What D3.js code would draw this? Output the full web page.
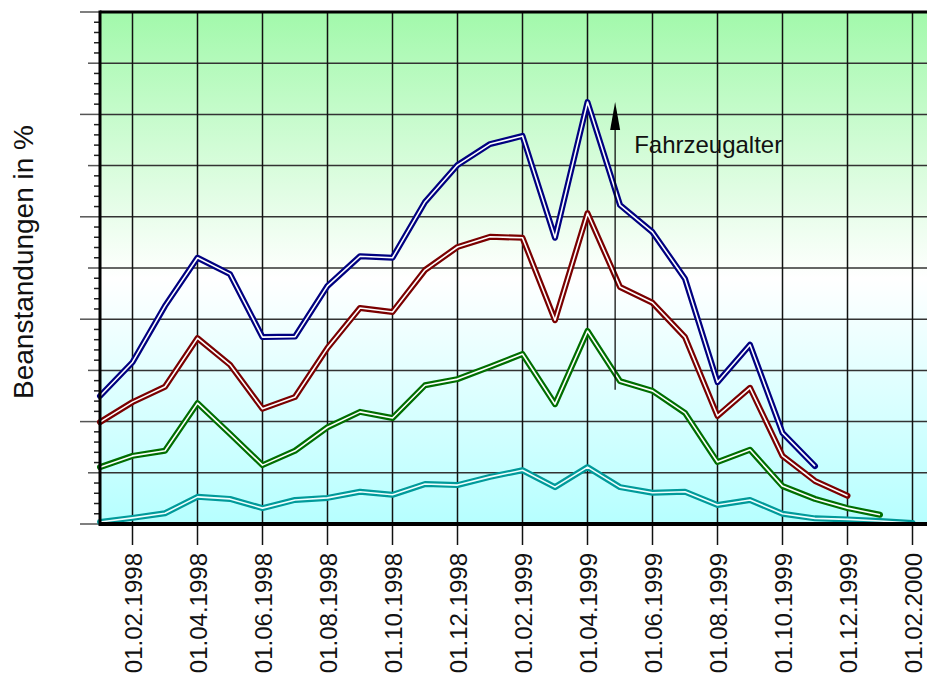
<!DOCTYPE html>
<html>
<head>
<meta charset="utf-8">
<script src="https://cdn.jsdelivr.net/npm/d3@7"></script>
<style>
  html, body { margin: 0; padding: 0; background: #fff; }
  svg { display: block; font-family: "Liberation Sans", Arial, sans-serif; }
</style>
</head>
<body>
<div id="chart"></div>
<script>
(function() {

  // month index 0 = 01.01.1998
  var tickLabels = ['01.02.1998', '01.04.1998', '01.06.1998', '01.08.1998',
    '01.10.1998', '01.12.1998', '01.02.1999', '01.04.1999', '01.06.1999',
    '01.08.1999', '01.10.1999', '01.12.1999', '01.02.2000'];
  var tickMonths = [1, 3, 5, 7, 9, 11, 13, 15, 17, 19, 21, 23, 25];

  var blueValues = [25.0, 31.6, 42.6, 52.0, 48.8, 36.5, 36.6, 46.5, 52.3, 52.0,
    62.9, 70.1, 74.2, 75.8, 55.9, 82.4, 62.3, 57.0, 47.9, 27.7, 35.0, 17.8, 11.3];
  var redValues = [19.9, 23.8, 26.8, 36.3, 31.1, 22.5, 24.8, 34.4, 42.2, 41.4,
    49.6, 54.1, 56.1, 55.9, 39.8, 60.7, 46.3, 43.2, 36.5, 21.1, 26.6, 13.3, 8.4, 5.5];
  var greenValues = [11.1, 13.3, 14.3, 23.6, 17.6, 11.5, 14.3, 18.9, 21.9, 20.7,
    27.1, 28.3, 30.7, 33.2, 23.4, 37.7, 27.9, 26.0, 21.7, 12.1, 14.5, 7.4, 4.9, 3.1, 1.8];
  var cyanValues = [0.4, 1.2, 2.1, 5.3, 4.9, 3.1, 4.7, 5.1, 6.3, 5.7,
    7.8, 7.6, 9.2, 10.5, 7.2, 11.1, 7.2, 6.1, 6.3, 3.7, 4.7, 2.0, 1.1, 0.9, 0.6, 0.2];

  var annotationText = 'Fahrzeugalter';
  var annotationMonth = 15.85;
  var annotationRange = [26.2, 82.4];

  var width = 927, height = 674;
  var left = 100, top = 12, bottom = 524, right = 945;

  var x = d3.scaleLinear().domain([0, 25]).range([left, 912.5]);
  var y = d3.scaleLinear().domain([0, 100]).range([bottom, top]);

  var svg = d3.select('#chart').append('svg')
    .attr('width', width)
    .attr('height', height);

  var defs = svg.append('defs');
  var grad = defs.append('linearGradient')
    .attr('id', 'bg')
    .attr('x1', 0).attr('y1', 0).attr('x2', 0).attr('y2', 1);
  grad.append('stop').attr('offset', '0%').attr('stop-color', '#a2f9ab');
  grad.append('stop').attr('offset', '52%').attr('stop-color', '#ffffff');
  grad.append('stop').attr('offset', '100%').attr('stop-color', '#b6ffff');

  svg.append('rect')
    .attr('x', left).attr('y', top)
    .attr('width', right - left).attr('height', bottom - top)
    .attr('fill', 'url(#bg)');

  // horizontal grid
  svg.append('g').selectAll('line')
    .data(d3.range(10, 100, 10))
    .enter().append('line')
    .attr('x1', left).attr('x2', right)
    .attr('y1', y).attr('y2', y)
    .attr('stroke', '#333')
    .attr('stroke-width', 1.5);

  // vertical grid
  svg.append('g').selectAll('line')
    .data(tickMonths)
    .enter().append('line')
    .attr('x1', x).attr('x2', x)
    .attr('y1', top).attr('y2', bottom)
    .attr('stroke', '#111')
    .attr('stroke-width', 1.5);

  // y axis ticks (no labels)
  svg.append('g').selectAll('line')
    .data(d3.range(0, 101, 2).filter(function(v) { return v % 10 !== 0; }))
    .enter().append('line')
    .attr('x1', left - 6).attr('x2', left)
    .attr('y1', y).attr('y2', y)
    .attr('stroke', '#222')
    .attr('stroke-width', 1.5);

  svg.append('g').selectAll('line')
    .data(d3.range(0, 101, 10))
    .enter().append('line')
    .attr('x1', function(v) { return v % 20 === 0 ? left - 20 : left - 12; })
    .attr('x2', left)
    .attr('y1', y).attr('y2', y)
    .attr('stroke', '#555')
    .attr('stroke-width', 1.5);

  // x axis ticks + labels
  var xt = svg.append('g').selectAll('g')
    .data(tickMonths)
    .enter().append('g')
    .attr('transform', function(m) { return 'translate(' + x(m) + ',0)'; });
  xt.append('line')
    .attr('y1', bottom).attr('y2', bottom + 21)
    .attr('stroke', '#111')
    .attr('stroke-width', 1.5);
  xt.append('text')
    .attr('transform', 'translate(9,' + (bottom + 29) + ') rotate(-90)')
    .attr('text-anchor', 'end')
    .style('font-size', '24px')
    .style('fill', '#111')
    .text(function(m, i) { return tickLabels[i]; });

  // series
  var line = d3.line()
    .x(function(d, i) { return x(i); })
    .y(function(d) { return y(d); });

  var series = [
    { values: cyanValues, outer: '#009a9a', inner: '#f0ffff' },
    { values: greenValues, outer: '#006e00', inner: '#ffffff' },
    { values: redValues, outer: '#7a0000', inner: '#ffffff' },
    { values: blueValues, outer: '#000080', inner: '#ffffff' }
  ];

  series.forEach(function(s) {
    svg.append('path')
      .datum(s.values)
      .attr('d', line)
      .attr('fill', 'none')
      .attr('stroke', s.outer)
      .attr('stroke-width', 6)
      .attr('stroke-linejoin', 'round')
      .attr('stroke-linecap', 'round');
    svg.append('path')
      .datum(s.values)
      .attr('d', line)
      .attr('fill', 'none')
      .attr('stroke', s.inner)
      .attr('stroke-width', 1.6)
      .attr('stroke-linejoin', 'round');
  });

  // frame
  svg.append('line')
    .attr('x1', left).attr('x2', width)
    .attr('y1', top).attr('y2', top)
    .attr('stroke', '#000').attr('stroke-width', 3);
  svg.append('line')
    .attr('x1', left).attr('x2', width)
    .attr('y1', bottom).attr('y2', bottom)
    .attr('stroke', '#000').attr('stroke-width', 4);
  svg.append('line')
    .attr('x1', left).attr('x2', left)
    .attr('y1', top - 1.5).attr('y2', bottom + 2)
    .attr('stroke', '#000').attr('stroke-width', 3);

  // annotation arrow
  var ax = x(annotationMonth);
  var y0 = y(annotationRange[0]), y1 = y(annotationRange[1]);
  svg.append('line')
    .attr('x1', ax).attr('x2', ax)
    .attr('y1', y0).attr('y2', y1 + 20)
    .attr('stroke', '#000').attr('stroke-width', 1.2);
  svg.append('path')
    .attr('d', 'M' + ax + ',' + y1 + 'L' + (ax + 5) + ',' + (y1 + 28) +
               'L' + (ax - 5) + ',' + (y1 + 28) + 'Z')
    .attr('fill', '#000');
  svg.append('text')
    .attr('x', ax + 19)
    .attr('y', y1 + 51)
    .style('font-size', '24px')
    .style('fill', '#111')
    .text(annotationText);

  // y title
  svg.append('text')
    .attr('transform', 'translate(33,' + 262 + ') rotate(-90)')
    .attr('text-anchor', 'middle')
    .style('font-size', '28px')
    .style('fill', '#111')
    .text('Beanstandungen in %');
})();
</script>
</body>
</html>
